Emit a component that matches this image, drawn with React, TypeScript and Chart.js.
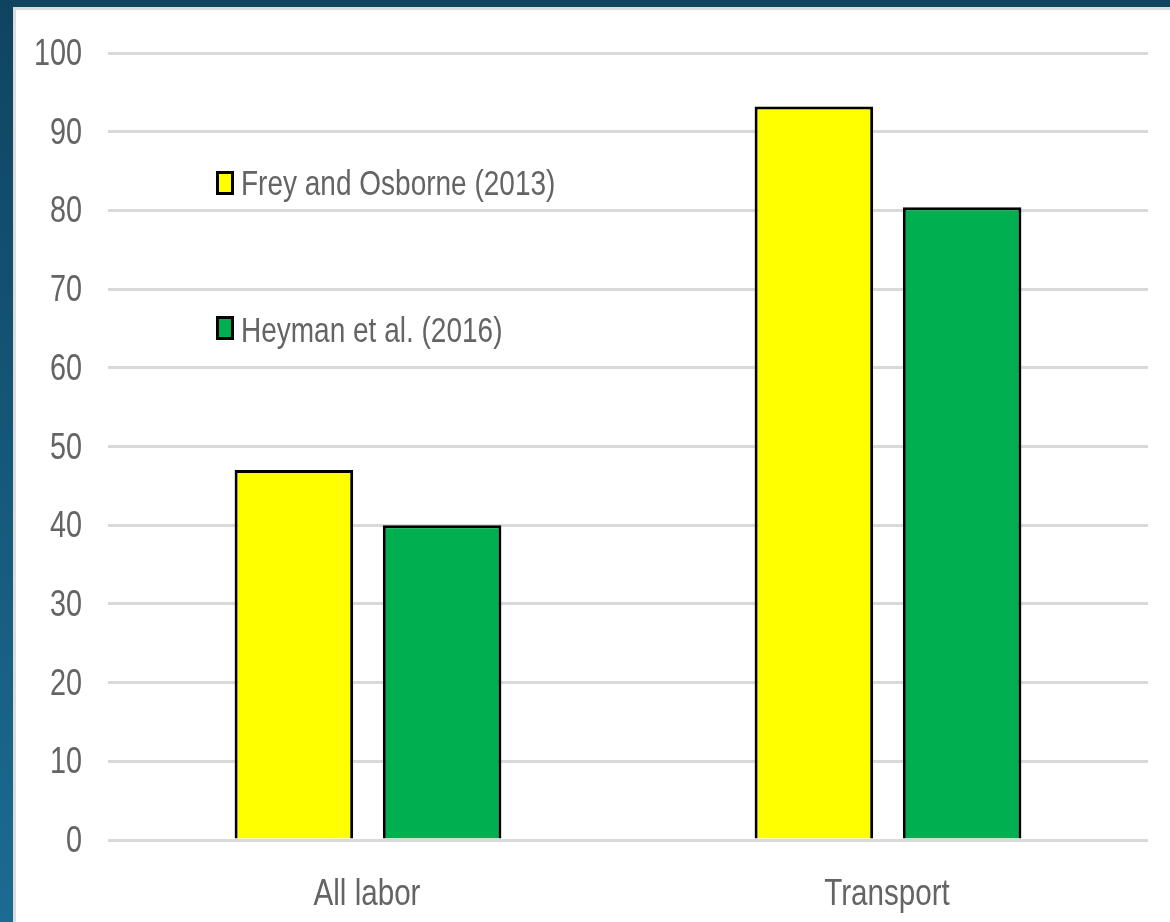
import React, { useEffect, useRef } from "react";
import { Chart, registerables } from "chart.js";

Chart.register(...registerables);

const categories = ["All labor", "Transport"];
const freyOsborne = [47, 93.2];
const heyman = [40, 80.4];
const seriesLabels = ["Frey and Osborne (2013)", "Heyman et al. (2016)"];
const yTicks = [0, 10, 20, 30, 40, 50, 60, 70, 80, 90, 100];

const FONT = '"Liberation Sans", Arial, sans-serif';
const TEXT_COLOR = "#646464";
const SX = 0.8;

function drawNarrow(
  ctx: CanvasRenderingContext2D,
  text: string,
  x: number,
  y: number,
  size: number,
  align: "left" | "right" | "center"
) {
  ctx.save();
  ctx.font = `${size}px ${FONT}`;
  ctx.fillStyle = TEXT_COLOR;
  ctx.textBaseline = "alphabetic";
  ctx.textAlign = align;
  ctx.translate(x, y);
  ctx.scale(SX, 1);
  ctx.fillText(text, 0, 0);
  ctx.restore();
}

const textPlugin = {
  id: "narrowText",
  afterDraw(chart: any) {
    const { ctx, chartArea } = chart;
    const xs = chart.scales.x;
    const ys = chart.scales.y;
    // y tick labels
    yTicks.forEach((v) => {
      const py = ys.getPixelForValue(v);
      drawNarrow(ctx, String(v), chartArea.left - 26, py + 12, 36, "right");
    });
    // x category labels
    chart.data.labels.forEach((lab: string, i: number) => {
      const px = xs.getPixelForTick(i);
      drawNarrow(ctx, lab, px - 1, chartArea.bottom + 65, 37, "center");
    });
    // legend inside the plot
    const boxTops = [118, 263];
    const baselines = [142, 289];
    chart.data.datasets.forEach((ds: any, i: number) => {
      const bx = chartArea.left + 108;
      const by = chartArea.top + boxTops[i];
      ctx.save();
      ctx.fillStyle = ds.backgroundColor;
      ctx.fillRect(bx, by, 18, 24);
      ctx.lineWidth = 3;
      ctx.strokeStyle = "#000";
      ctx.strokeRect(bx + 1.5, by + 1.5, 15, 21);
      ctx.restore();
      drawNarrow(ctx, ds.label, bx + 25, chartArea.top + baselines[i], 35, "left");
    });
  },
};

export default function App() {
  const ref = useRef<HTMLCanvasElement>(null);
  useEffect(() => {
    if (!ref.current) return;
    const chart = new Chart(ref.current, {
      type: "bar",
      data: {
        labels: categories,
        datasets: [
          {
            label: seriesLabels[0],
            data: freyOsborne,
            backgroundColor: "#ffff00",
            borderColor: "#000000",
            borderWidth: 3,
            categoryPercentage: 0.57,
            barPercentage: 0.8,
          },
          {
            label: seriesLabels[1],
            data: heyman,
            backgroundColor: "#00b050",
            borderColor: "#000000",
            borderWidth: 3,
            categoryPercentage: 0.57,
            barPercentage: 0.8,
          },
        ],
      },
      options: {
        animation: false,
        responsive: false,
        maintainAspectRatio: false,
        layout: { padding: { left: 0, right: 22, top: 43, bottom: 0 } },
        plugins: {
          legend: { display: false },
          tooltip: { enabled: false },
        },
        scales: {
          x: {
            grid: { display: false },
            border: { display: false },
            ticks: { display: false },
            afterFit: (s: any) => {
              s.height = 82;
            },
          },
          y: {
            min: 0,
            max: 100,
            afterBuildTicks: (s: any) => {
              s.ticks = yTicks.map((v) => ({ value: v }));
            },
            grid: { color: "#d9d9d9", lineWidth: 3, drawTicks: false },
            border: { display: false },
            ticks: { display: false },
            afterFit: (s: any) => {
              s.width = 92;
            },
          },
        },
      },
      plugins: [textPlugin],
    });
    return () => chart.destroy();
  }, []);

  return (
    <div
      style={{
        position: "fixed",
        inset: 0,
        background: "linear-gradient(to bottom, #0f4460, #1c6b92)",
      }}
    >
      <div
        style={{
          position: "absolute",
          left: 13,
          top: 7,
          right: 0,
          bottom: 0,
          background: "#ffffff",
          borderLeft: "3px solid #dcdcdc",
          borderTop: "3px solid #dcdcdc",
        }}
      >
        <canvas ref={ref} width={1154} height={912} style={{ display: "block" }} />
      </div>
    </div>
  );
}
